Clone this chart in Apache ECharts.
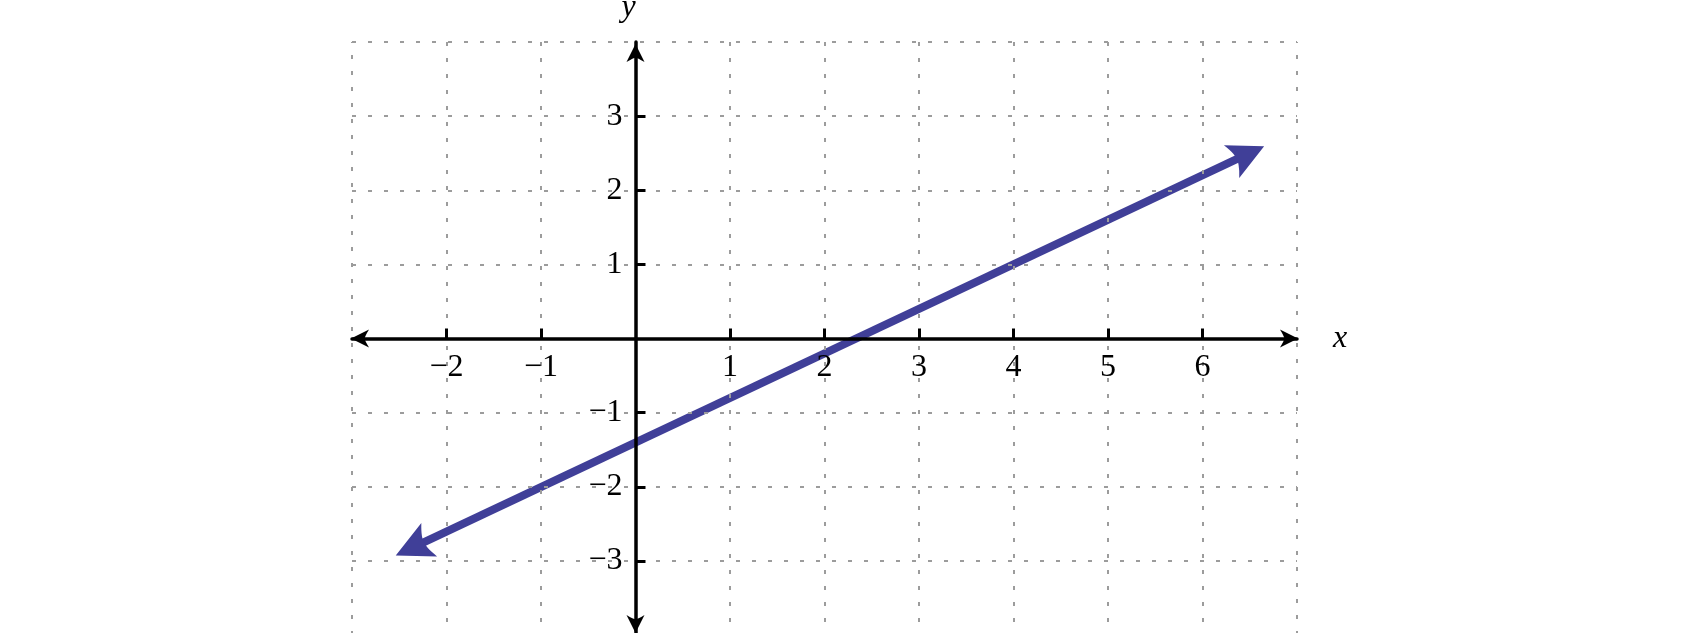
<!DOCTYPE html>
<html>
<head>
<meta charset="utf-8">
<script src="https://cdn.jsdelivr.net/npm/echarts@6/dist/echarts.min.js"></script>
<style>
html,body{margin:0;padding:0;background:#fff;}
#chart{width:1700px;height:633px;}
</style>
</head>
<body>
<div id="chart"></div>
<script>
// Line endpoints (centres of the arrowheads): y = 0.6x - 1.4
const lineX = [-2.36, 6.48];
const lineY = [-2.82, 2.49];
// Axis ranges
const xRange = [-3, 7];
const yRange = [-4, 4];
// Tick labels shown
const xTickLabels = [-2, -1, 1, 2, 3, 4, 5, 6];
const yTickLabels = [-3, -2, -1, 1, 2, 3];

const serif = "Liberation Serif";
const lineColor = '#403f98';
const gridColor = '#9c9c9c';
const gridDash = [4, 12];
const arrowPath = 'path://M50,0 L100,100 Q60,80 50,86 Q40,80 0,100 Z';
const axisArrow = 'path://M50,0 L100,100 Q60,76 50,76 Q40,76 0,100 Z';
const fmt = v => String(v).replace('-', '\u2212');
const gridLine = {show: true, showMinLine: true, showMaxLine: true,
  lineStyle: {color: gridColor, width: 2, type: gridDash}};

const chart = echarts.init(document.getElementById('chart'), null, {renderer: 'canvas'});
const option = {
  animation: false,
  backgroundColor: '#fff',
  grid: {left: 352, right: 403, top: 42, bottom: -2, containLabel: false, outerBoundsMode: 'none'},
  xAxis: {
    type: 'value', min: xRange[0], max: xRange[1], interval: 1, position: 'bottom', offset: 0,
    name: 'x', nameLocation: 'end', nameGap: 36,
    nameTextStyle: {fontFamily: serif, fontStyle: 'italic', fontSize: 32, color: '#000', verticalAlign: 'middle'},
    axisLine: {show: true, onZero: false, symbol: [axisArrow, axisArrow], symbolSize: [20, 18], symbolOffset: [8, -8],
      lineStyle: {color: '#000', width: 3.5}},
    axisTick: {show: true, inside: true, length: 10, customValues: xTickLabels, lineStyle: {color: '#000', width: 3}},
    axisLabel: {show: true, customValues: xTickLabels, margin: 13, formatter: fmt,
      fontFamily: serif, fontSize: 32, color: '#000'},
    splitLine: gridLine,
    z: 10
  },
  yAxis: {
    type: 'value', min: yRange[0], max: yRange[1], interval: 1, position: 'left', offset: 0,
    name: 'y', nameLocation: 'end', nameGap: 18,
    nameTextStyle: {fontFamily: serif, fontStyle: 'italic', fontSize: 32, color: '#000', align: 'center', verticalAlign: 'bottom', padding: [0, 14, 0, 0]},
    axisLine: {show: true, onZero: false, symbol: [axisArrow, axisArrow], symbolSize: [20, 18], symbolOffset: [11, -11],
      lineStyle: {color: '#000', width: 3.5}},
    axisTick: {show: true, inside: true, length: 10, customValues: yTickLabels, lineStyle: {color: '#000', width: 3}},
    axisLabel: {show: true, customValues: yTickLabels, margin: 13, formatter: fmt,
      fontFamily: serif, fontSize: 32, color: '#000'},
    splitLine: gridLine,
    z: 10
  },
  series: [{
    type: 'lines',
    coordinateSystem: 'cartesian2d',
    symbol: [arrowPath, arrowPath],
    symbolSize: [37, 36],
    lineStyle: {color: lineColor, width: 8, opacity: 1, curveness: 0},
    data: [{coords: [[lineX[0], lineY[0]], [lineX[1], lineY[1]]]}],
    z: 5
  }, {
    // boundary grid lines of the dotted grid
    type: 'line',
    data: [],
    silent: true,
    z: 1,
    markLine: {
      silent: true,
      symbol: ['none', 'none'],
      label: {show: false},
      animation: false,
      lineStyle: {color: gridColor, width: 2, type: gridDash},
      emphasis: {disabled: true},
      data: [{xAxis: xRange[0]}, {xAxis: xRange[1]}, {yAxis: yRange[0]}, {yAxis: yRange[1]}]
    }
  }]
};
chart.setOption(option);
// Move the axes onto the origin (x = 0, y = 0) using the chart's own scales
const origin = chart.convertToPixel({gridIndex: 0}, [0, 0]);
const corner = chart.convertToPixel({gridIndex: 0}, [xRange[0], yRange[0]]);
chart.setOption({
  xAxis: {offset: origin[1] - corner[1]},
  yAxis: {offset: corner[0] - origin[0]}
});
</script>
</body>
</html>
